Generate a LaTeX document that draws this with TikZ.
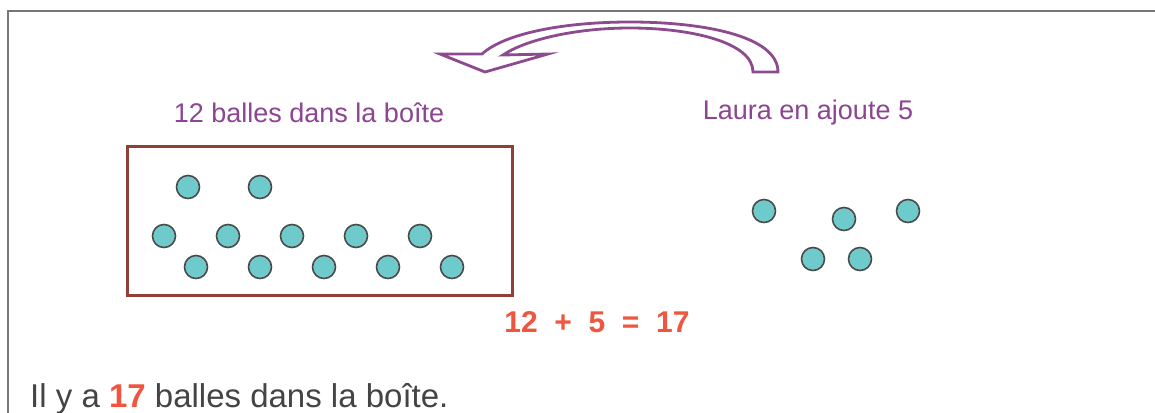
\documentclass[tikz,border=0pt]{standalone}
\usepackage{fontspec}
\setmainfont{Liberation Sans}
\definecolor{purp}{HTML}{8C4590}
\definecolor{arrowpurp}{HTML}{8E4A8E}
\definecolor{eqred}{HTML}{F0553F}
\definecolor{ballfill}{HTML}{6FCACC}
\definecolor{ballline}{HTML}{4A4A4A}
\definecolor{boxbrown}{HTML}{913F37}
\definecolor{framegray}{HTML}{777777}
\definecolor{textgray}{HTML}{444444}
\tikzset{
  ball/.style={circle, draw=ballline, fill=ballfill, line width=1.6pt, minimum size=23pt, inner sep=0pt},
  lbl/.style={text=purp, font=\fontsize{27}{30}\selectfont, inner sep=0pt},
  eqtext/.style={text=eqred, font=\fontsize{30}{33}\selectfont\bfseries, inner sep=0pt},
  bigbox/.style={draw=boxbrown, line width=3pt},
  frameline/.style={draw=framegray, line width=2pt},
  curvearrow/.style={draw=arrowpurp, fill=white, line width=2.8pt, line join=miter}
}
\begin{document}
\begin{tikzpicture}[x=1pt,y=-1pt]
\useasboundingbox (0,0) rectangle (1155,412);
\fill[white] (0,0) rectangle (1155,412);
% frame
\draw[frameline] (8,413) -- (8,11) -- (1156,11);
% curved arrow
\draw[curvearrow] (778,72) -- (753,72)
  .. controls (753,42) and (690,28) .. (630,28)
  .. controls (575,28) and (525,40) .. (503,55)
  -- (548,54) -- (485,72) -- (440,54) -- (482,54)
  .. controls (505,33) and (565,22) .. (630,22)
  .. controls (700,22) and (778,35) .. cycle;
% labels
\node[lbl] (lblleft) at (309,113) {12 balles dans la boîte};
\node[lbl] (lblright) at (808,113) {Laura en ajoute 5};
% box
\node[bigbox, minimum width=385pt, minimum height=149pt, inner sep=0pt] (box) at (319.5,220.5) {};
% balls in box
\node[ball] (b1) at (188,187) {};
\node[ball] (b2) at (260,187) {};
\node[ball] (b3) at (164,236) {};
\node[ball] (b4) at (228,236) {};
\node[ball] (b5) at (292,236) {};
\node[ball] (b6) at (356,236) {};
\node[ball] (b7) at (420,236) {};
\node[ball] (b8) at (196,267) {};
\node[ball] (b9) at (260,267) {};
\node[ball] (b10) at (324,267) {};
\node[ball] (b11) at (388,267) {};
\node[ball] (b12) at (452,267) {};
% added balls
\node[ball] (c1) at (764,211) {};
\node[ball] (c2) at (844,219) {};
\node[ball] (c3) at (908,211) {};
\node[ball] (c4) at (813,259) {};
\node[ball] (c5) at (860,259) {};
% equation
\node[eqtext] (eq) at (597,322) {12\ \ +\ \ 5\ \ =\ \ 17};
% bottom sentence
\node[anchor=base west, inner sep=0pt, text=textgray, font=\fontsize{33}{36}\selectfont] (concl) at (30,407)
  {Il y a \textcolor{eqred}{\bfseries 17} balles dans la boîte.};
\end{tikzpicture}
\end{document}
